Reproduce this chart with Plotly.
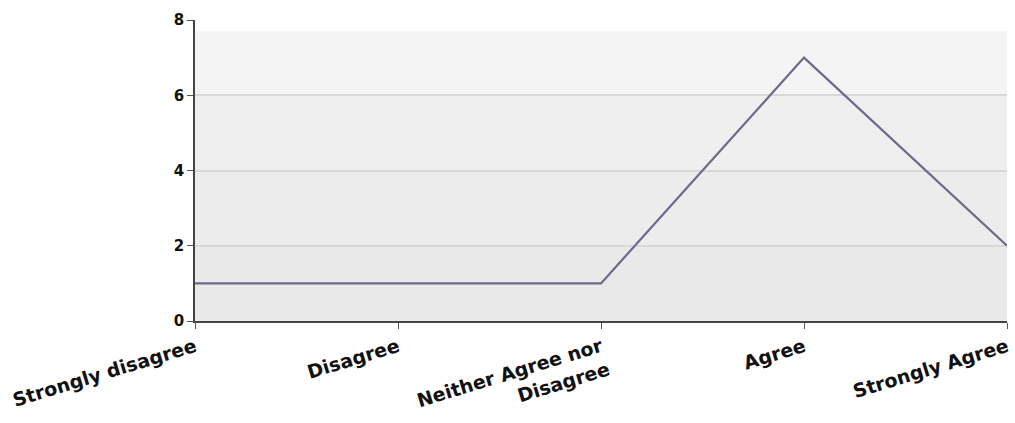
import plotly.graph_objects as go

categories = ["Strongly disagree", "Disagree", "Neither Agree nor<br>Disagree", "Agree", "Strongly Agree"]
counts = [1, 1, 1, 7, 2]
y_ticks = [0, 2, 4, 6, 8]

fig = go.Figure()
fig.add_trace(go.Scatter(
    x=list(range(len(categories))), y=counts, mode="lines",
    line=dict(color="#6a6a8a", width=2.2),
    hoverinfo="skip", showlegend=False, cliponaxis=False,
))

bands = [(0, 2, "#e9e9e9"), (2, 4, "#ececec"), (4, 6, "#efefef"), (6, 7.7, "#f4f4f4")]
shapes = []
for y0, y1, c in bands:
    shapes.append(dict(type="rect", xref="paper", yref="y", x0=0, x1=1, y0=y0, y1=y1,
                       fillcolor=c, line=dict(width=0), layer="below"))

fig.update_layout(
    width=1015, height=423,
    margin=dict(l=195, r=8, t=20, b=102, autoexpand=False),
    paper_bgcolor="white", plot_bgcolor="white",
    shapes=shapes,
    font=dict(family="DejaVu Sans", size=14, color="#111111"),
    xaxis=dict(
        tickmode="array", tickvals=list(range(len(categories))), ticktext=[f"<b>{c}</b>" for c in categories],
        range=[0, 4], tickangle=-17, ticks="outside", ticklen=6, tickcolor="#555",
        showline=True, linecolor="#444", linewidth=1.5, showgrid=False, zeroline=False,
        tickfont=dict(size=19), automargin=False, ticklabeloverflow="allow",
    ),
    yaxis=dict(
        tickmode="array", tickvals=y_ticks, ticktext=[f"<b>{v}</b>" for v in y_ticks],
        range=[0, 8], ticks="outside", ticklen=6, tickcolor="#555",
        showline=True, linecolor="#444", linewidth=1.5,
        showgrid=True, gridcolor="#d8d8d8", gridwidth=1.5, zeroline=False,
        tickfont=dict(size=15), automargin=False, ticklabeloverflow="allow",
    ),
)
fig.write_html("out.html", config={"displayModeBar": False},
               post_script="document.body.style.margin='0';document.body.style.overflow='hidden';")
